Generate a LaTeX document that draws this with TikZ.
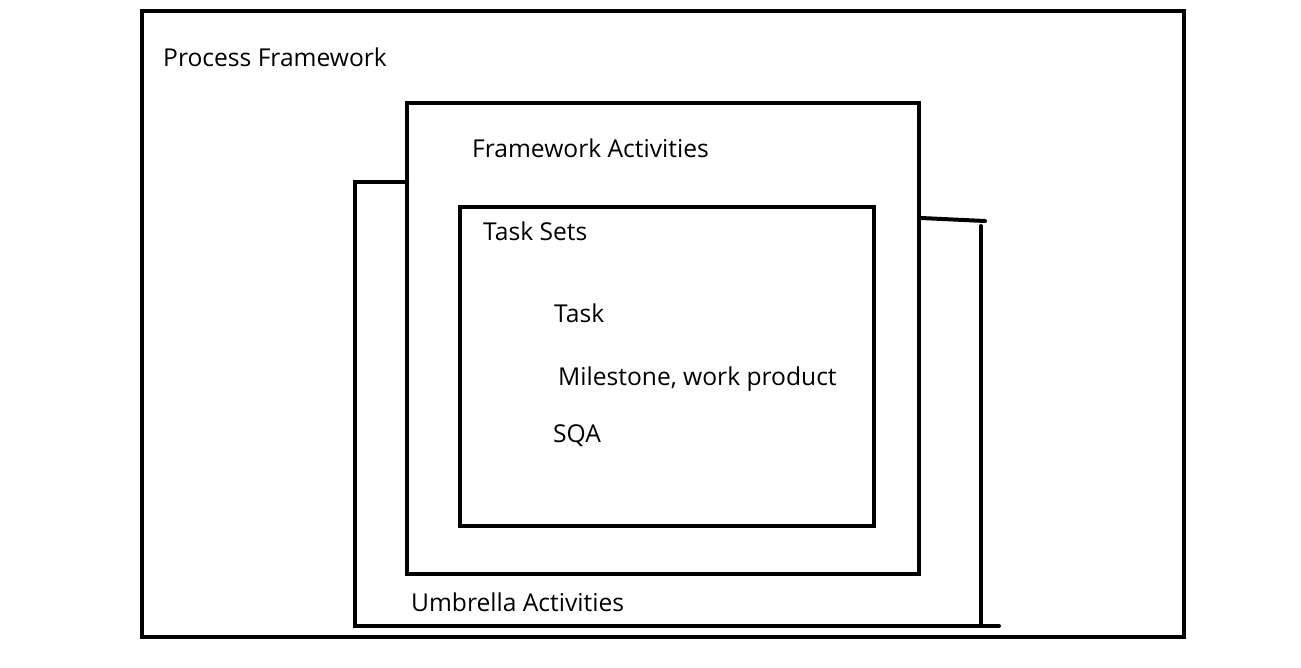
\documentclass[tikz,border=0pt]{standalone}
\usepackage{fontspec}
\setmainfont{Open Sans}
\begin{document}
\begin{tikzpicture}[x=1pt,y=-1pt,
  box/.style={draw=black,line width=4pt,inner sep=0pt},
  lbl/.style={anchor=base west,inner sep=0pt,font=\fontsize{24.6}{28}\selectfont},
  umb/.style={draw=black,line width=4pt,line cap=round}]
\useasboundingbox[fill=white] (0,0) rectangle (1301,667);
% boxes
\node[box,minimum width=1042pt,minimum height=626pt] (outer) at (663,324) {};
\node[box,minimum width=512pt,minimum height=471pt] (fa) at (663,338.5) {};
\node[box,minimum width=414pt,minimum height=319pt] (ts) at (667,366.5) {};
% labels
\node[lbl] (lpf) at (163,66) {Process Framework};
\node[lbl] (lfa) at (472,157) {Framework Activities};
\node[lbl] (lts) at (483,240) {Task Sets};
\node[lbl] (ltask) at (554,322) {Task};
\node[lbl] (lms) at (558,385) {Milestone, work product};
\node[lbl] (lsqa) at (553,442) {SQA};
\node[lbl] (lua) at (411,611) {Umbrella Activities};
% umbrella bracket
\coordinate (u1) at (407,182);
\coordinate (u2) at (355,182);
\coordinate (u3) at (355,626);
\coordinate (u4) at (999,626);
\coordinate (u5) at (981,626);
\coordinate (u6) at (981,226);
\coordinate (u7) at (921,218);
\coordinate (u8) at (985,221);
\draw[umb] (u1) -- (u2) -- (u3) -- (u4);
\draw[umb] (u5) -- (u6);
\draw[umb] (u7) -- (u8);
\end{tikzpicture}
\end{document}
